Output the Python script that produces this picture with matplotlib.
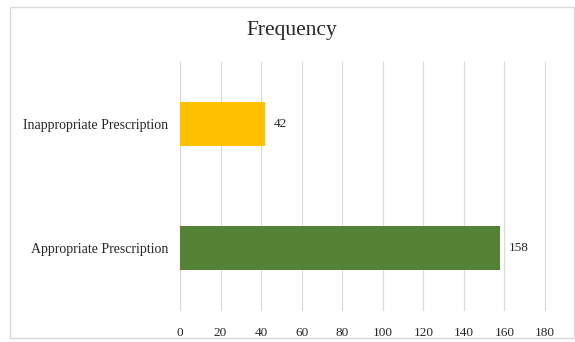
import matplotlib
matplotlib.use("Agg")
import matplotlib.pyplot as plt
from matplotlib.patches import Rectangle

categories = ["Appropriate Prescription", "Inappropriate Prescription"]
frequency = [158, 42]
bar_colors = ["#548235", "#FFC000"]
x_ticks = [0, 20, 40, 60, 80, 100, 120, 140, 160, 180]
title = "Frequency"

plt.rcParams["font.family"] = ["Liberation Serif", "DejaVu Serif"]

fig = plt.figure(figsize=(5.75, 3.42), dpi=100)
fig.patch.set_facecolor("white")

# chart-area frame
fig.patches.append(Rectangle((10 / 575, 4 / 342), 564 / 575, 331 / 342,
                             transform=fig.transFigure, fill=False,
                             edgecolor="#d9d9d9", linewidth=1.0))

ax = fig.add_axes([180 / 575, 1 - 310 / 342, 365 / 575, 248 / 342])
y = range(len(categories))
ax.barh(list(y), frequency, height=0.36, color=bar_colors, zorder=3)

for yi, v in zip(y, frequency):
    ax.text(v + 4, yi, str(v), va="center", ha="left", fontsize=9.5, color="#262626")

ax.set_xlim(0, 180)
ax.set_ylim(-0.5, 1.5)
ax.set_xticks(x_ticks)
ax.set_yticks(list(y))
ax.set_yticklabels(categories)
ax.tick_params(axis="both", length=0, colors="#262626")
ax.tick_params(axis="x", pad=12, labelsize=9.5)
ax.tick_params(axis="y", pad=8.5, labelsize=10)
ax.grid(axis="x", color="#d9d9d9", linewidth=0.8, zorder=0)
for gl in ax.get_xgridlines():
    gl.set_clip_on(False)
for s in ax.spines.values():
    s.set_visible(False)

fig.text(292 / 575, 1 - 31 / 342, title, ha="center", va="center",
         fontsize=15.5, color="#262626")

fig.savefig("out.png", dpi=100)
